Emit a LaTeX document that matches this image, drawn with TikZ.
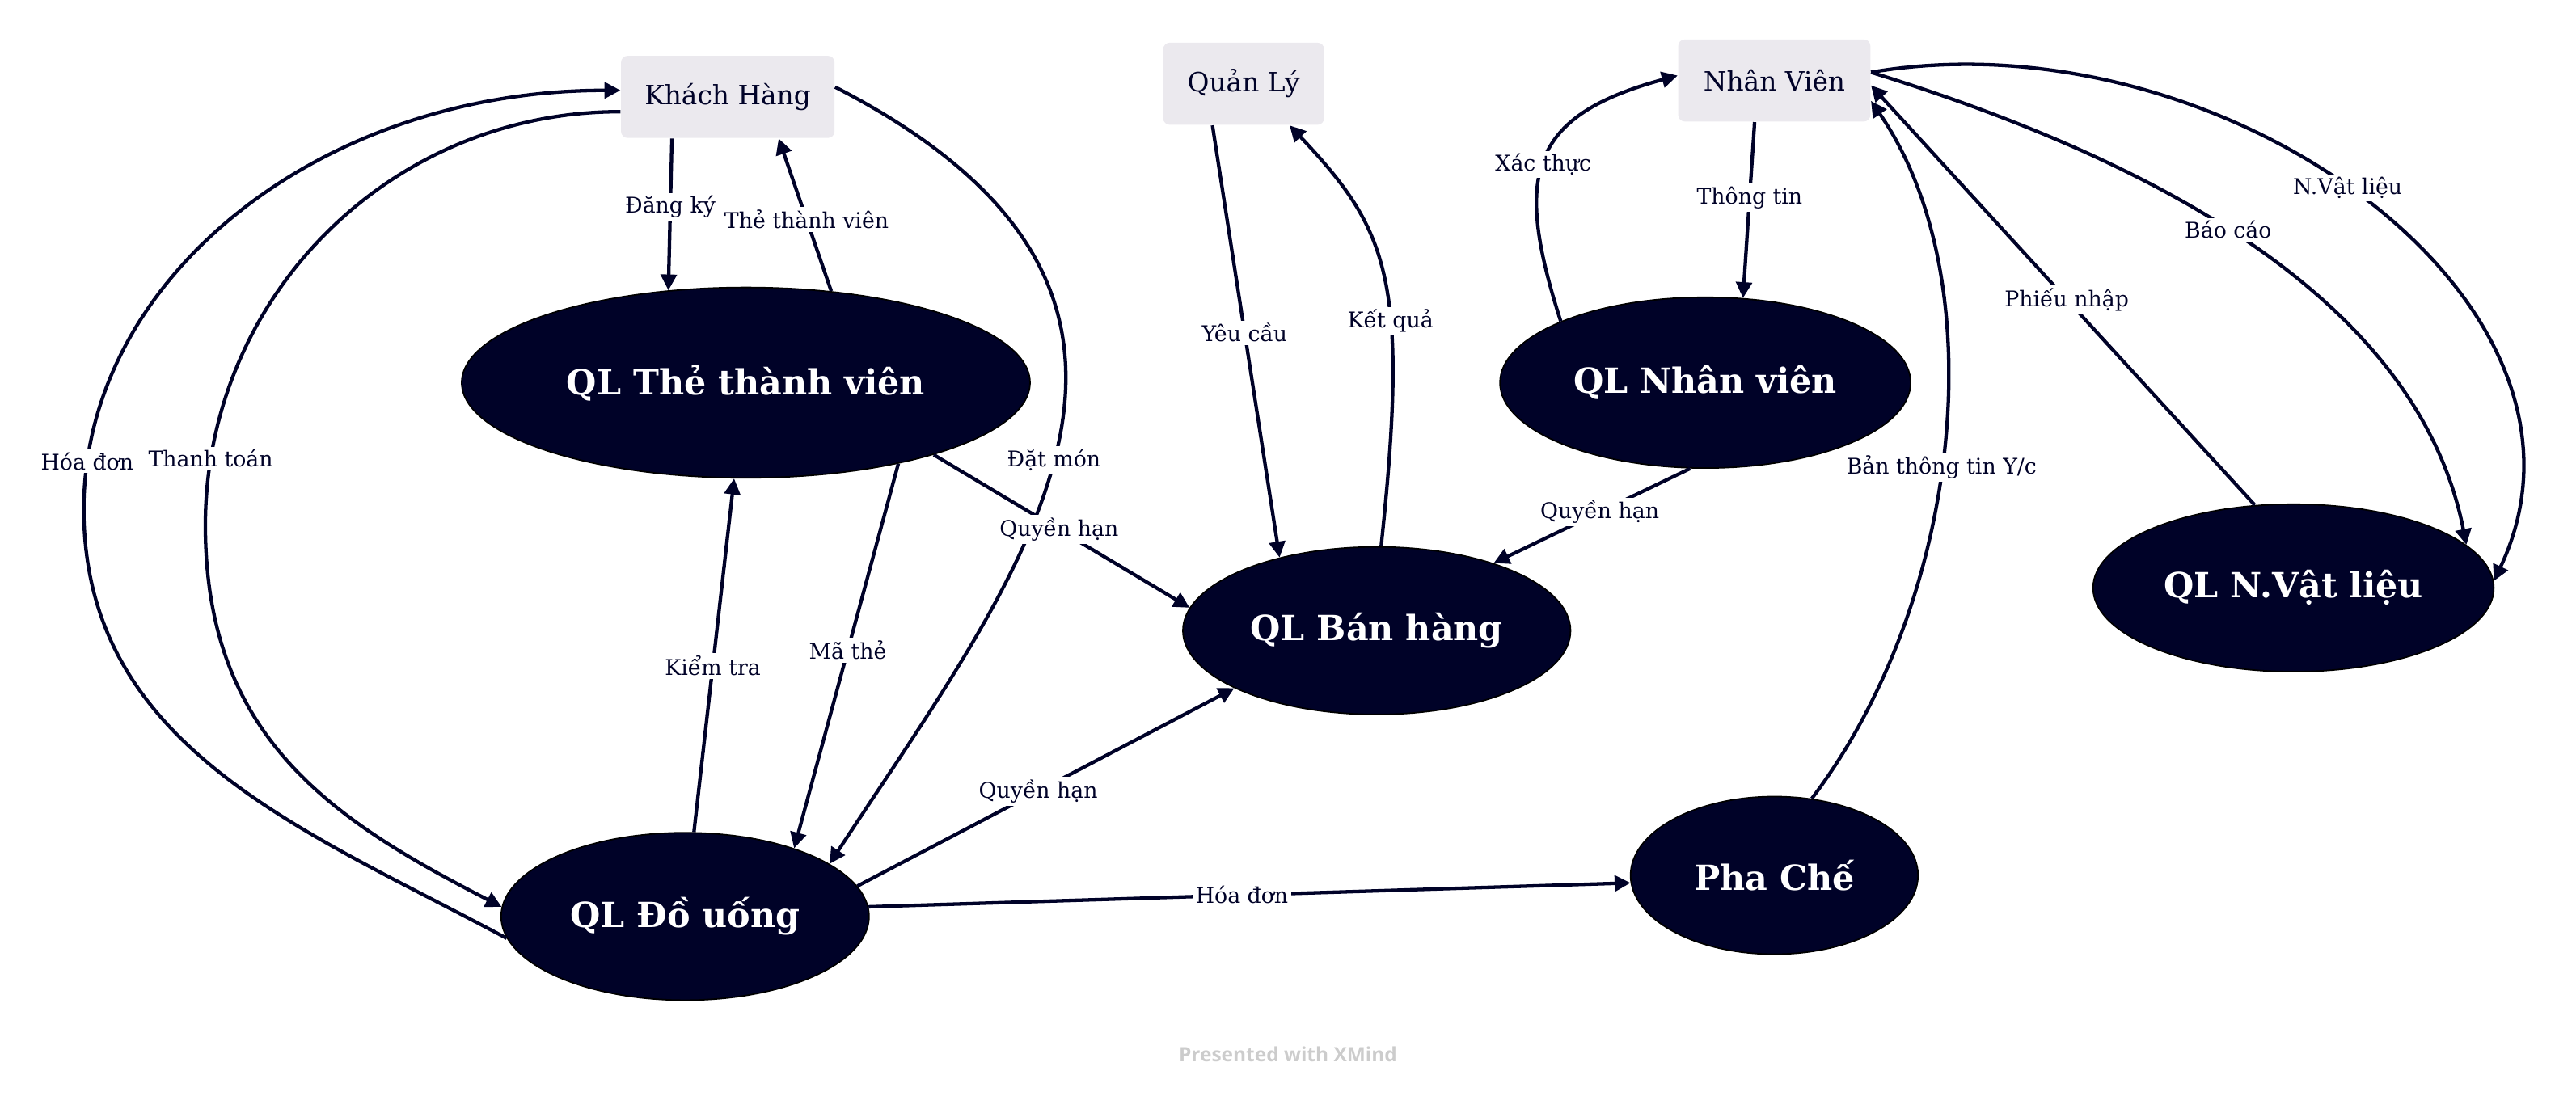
\documentclass[tikz,border=0pt]{standalone}
\usepackage{fontspec}
\setmainfont{DejaVu Serif}
\newfontfamily\wmfont{Open Sans}
\usetikzlibrary{shapes.geometric,arrows.meta}
\definecolor{navy}{HTML}{000228}
\definecolor{boxgray}{HTML}{EBE9EE}
\definecolor{wmgray}{HTML}{CCCCCC}

\begin{document}
\begin{tikzpicture}[x=0.02cm, y=-0.02cm,
    akteur/.style={fill=boxgray, rounded corners=2.3pt, text=navy, font=\fontsize{9.2}{11}\selectfont, minimum height=1cm, inner sep=0pt},
    prozess/.style={ellipse, fill=navy, draw=black, line width=0.5pt, text=white, font=\fontsize{12}{14}\selectfont\bfseries, inner sep=0pt},
    fluss/.style={draw=navy, line width=1.2pt, -{Triangle[length=5.5pt,width=5.5pt]}},
    lbl/.style={fill=white, text=navy, font=\fontsize{7.5}{9}\selectfont, inner sep=1pt}]
            \useasboundingbox (0,0) rectangle (1568,667);   %Rand
            % Akteure
            \node [akteur, minimum width=2.6cm] (kh) at (443,59) {Khách Hàng};
            \node [akteur, minimum width=1.96cm] (ql) at (757,51) {Quản Lý};
            \node [akteur, minimum width=2.34cm] (nv) at (1080,49) {Nhân Viên};
            % Prozesse
            \node [prozess, minimum width=6.92cm, minimum height=2.32cm] (the) at (454,233) {QL Thẻ thành viên};
            \node [prozess, minimum width=5cm, minimum height=2.08cm] (qlnv) at (1038,233) {QL Nhân viên};
            \node [prozess, minimum width=4.72cm, minimum height=2.04cm] (bh) at (838,384) {QL Bán hàng};
            \node [prozess, minimum width=4.88cm, minimum height=2.04cm] (nvl) at (1396,358) {QL N.Vật liệu};
            \node [prozess, minimum width=4.48cm, minimum height=2.04cm] (dou) at (417,558) {QL Đồ uống};
            \node [prozess, minimum width=3.5cm, minimum height=1.92cm] (pc) at (1080,533) {Pha Chế};
            \node [text=wmgray, font=\wmfont\fontsize{6.85}{8}\selectfont\bfseries] (wm) at (784,642) {Presented with XMind};
            % Fluesse links
            \draw [fluss] ([xshift=-0.68cm]kh.south) -- (the.130) node [lbl, pos=.45] (l1) {Đăng ký};
            \draw [fluss] (the.47) -- ([xshift=0.62cm]kh.south) node [lbl, pos=.47] (l2) {Thẻ thành viên};
            \draw [fluss] ([yshift=0.12cm]kh.east) .. controls (757,181) and (622,347) .. (dou.20) node [lbl, pos=.52] (l3) {Đặt món};
            \draw [fluss] (dou.187) .. controls (185,505) and (51,455) .. (51,310) .. controls (51,169) and (195,55) .. ([yshift=0.08cm]kh.west) node [lbl, pos=.07] (l4) {Hóa đơn};
            \draw [fluss] ([yshift=-0.18cm]kh.west) .. controls (237,68) and (125,181) .. (125,320) node [lbl, pos=.9] (l5) {Thanh toán} .. controls (125,450) and (204,500) .. (dou.177);
            \draw [fluss] (dou.84) -- (the.263) node [lbl, pos=.47] (l6) {Kiểm tra};
            \draw [fluss] (the.-28) -- (dou.32) node [lbl, pos=.485] (l7) {Mã thẻ};
            % Fluesse Mitte
            \draw [fluss] (the.-21) -- (bh.173) node [lbl, pos=.49] (l8) {Quyền hạn};
            \draw [fluss] (dou.10) -- (bh.202) node [lbl, pos=.48] (l9) {Quyền hạn};
            \draw [fluss] (dou.3) -- (pc.183) node [lbl, pos=.49] (l10) {Hóa đơn};
            \draw [fluss] ([xshift=-0.38cm]ql.south) -- (bh.143) node [lbl, pos=.48] (l11) {Yêu cầu};
            \draw [fluss] (bh.87) .. controls (858,170) and (845,140) .. ([xshift=0.56cm]ql.south) node [lbl, pos=.38] (l12) {Kết quả};
            % Fluesse rechts
            \draw [fluss] (qlnv.157) .. controls (922,108) and (929,71) .. ([yshift=0.06cm]nv.west) node [lbl, pos=.48] (l13) {Xác thực};
            \draw [fluss] ([xshift=-0.24cm]nv.south) -- (qlnv.66) node [lbl, pos=.43] (l14) {Thông tin};
            \draw [fluss] (qlnv.260) -- (bh.30) node [lbl, pos=.46] (l15) {Quyền hạn};
            \draw [fluss] (pc.64) .. controls (1193.6,366.7) and (1214.8,171.7) .. ([yshift=-0.25cm]nv.east) node [lbl, pos=.47] (l16) {Bản thông tin Y/c};
            \draw [fluss] (nvl.115) -- ([yshift=-0.06cm]nv.east) node [lbl, pos=.49] (l17) {Phiếu nhập};
            \draw [fluss] ([yshift=0.1cm]nv.east) .. controls (1336,105) and (1474,194) .. (nvl.14) node [lbl, pos=.43] (l18) {Báo cáo};
            \draw [fluss] ([yshift=0.1cm]nv.east) .. controls (1352,7.5) and (1598.7,184) .. (nvl.2) node [lbl, pos=.48] (l19) {N.Vật liệu};
        \end{tikzpicture}
\end{document}
